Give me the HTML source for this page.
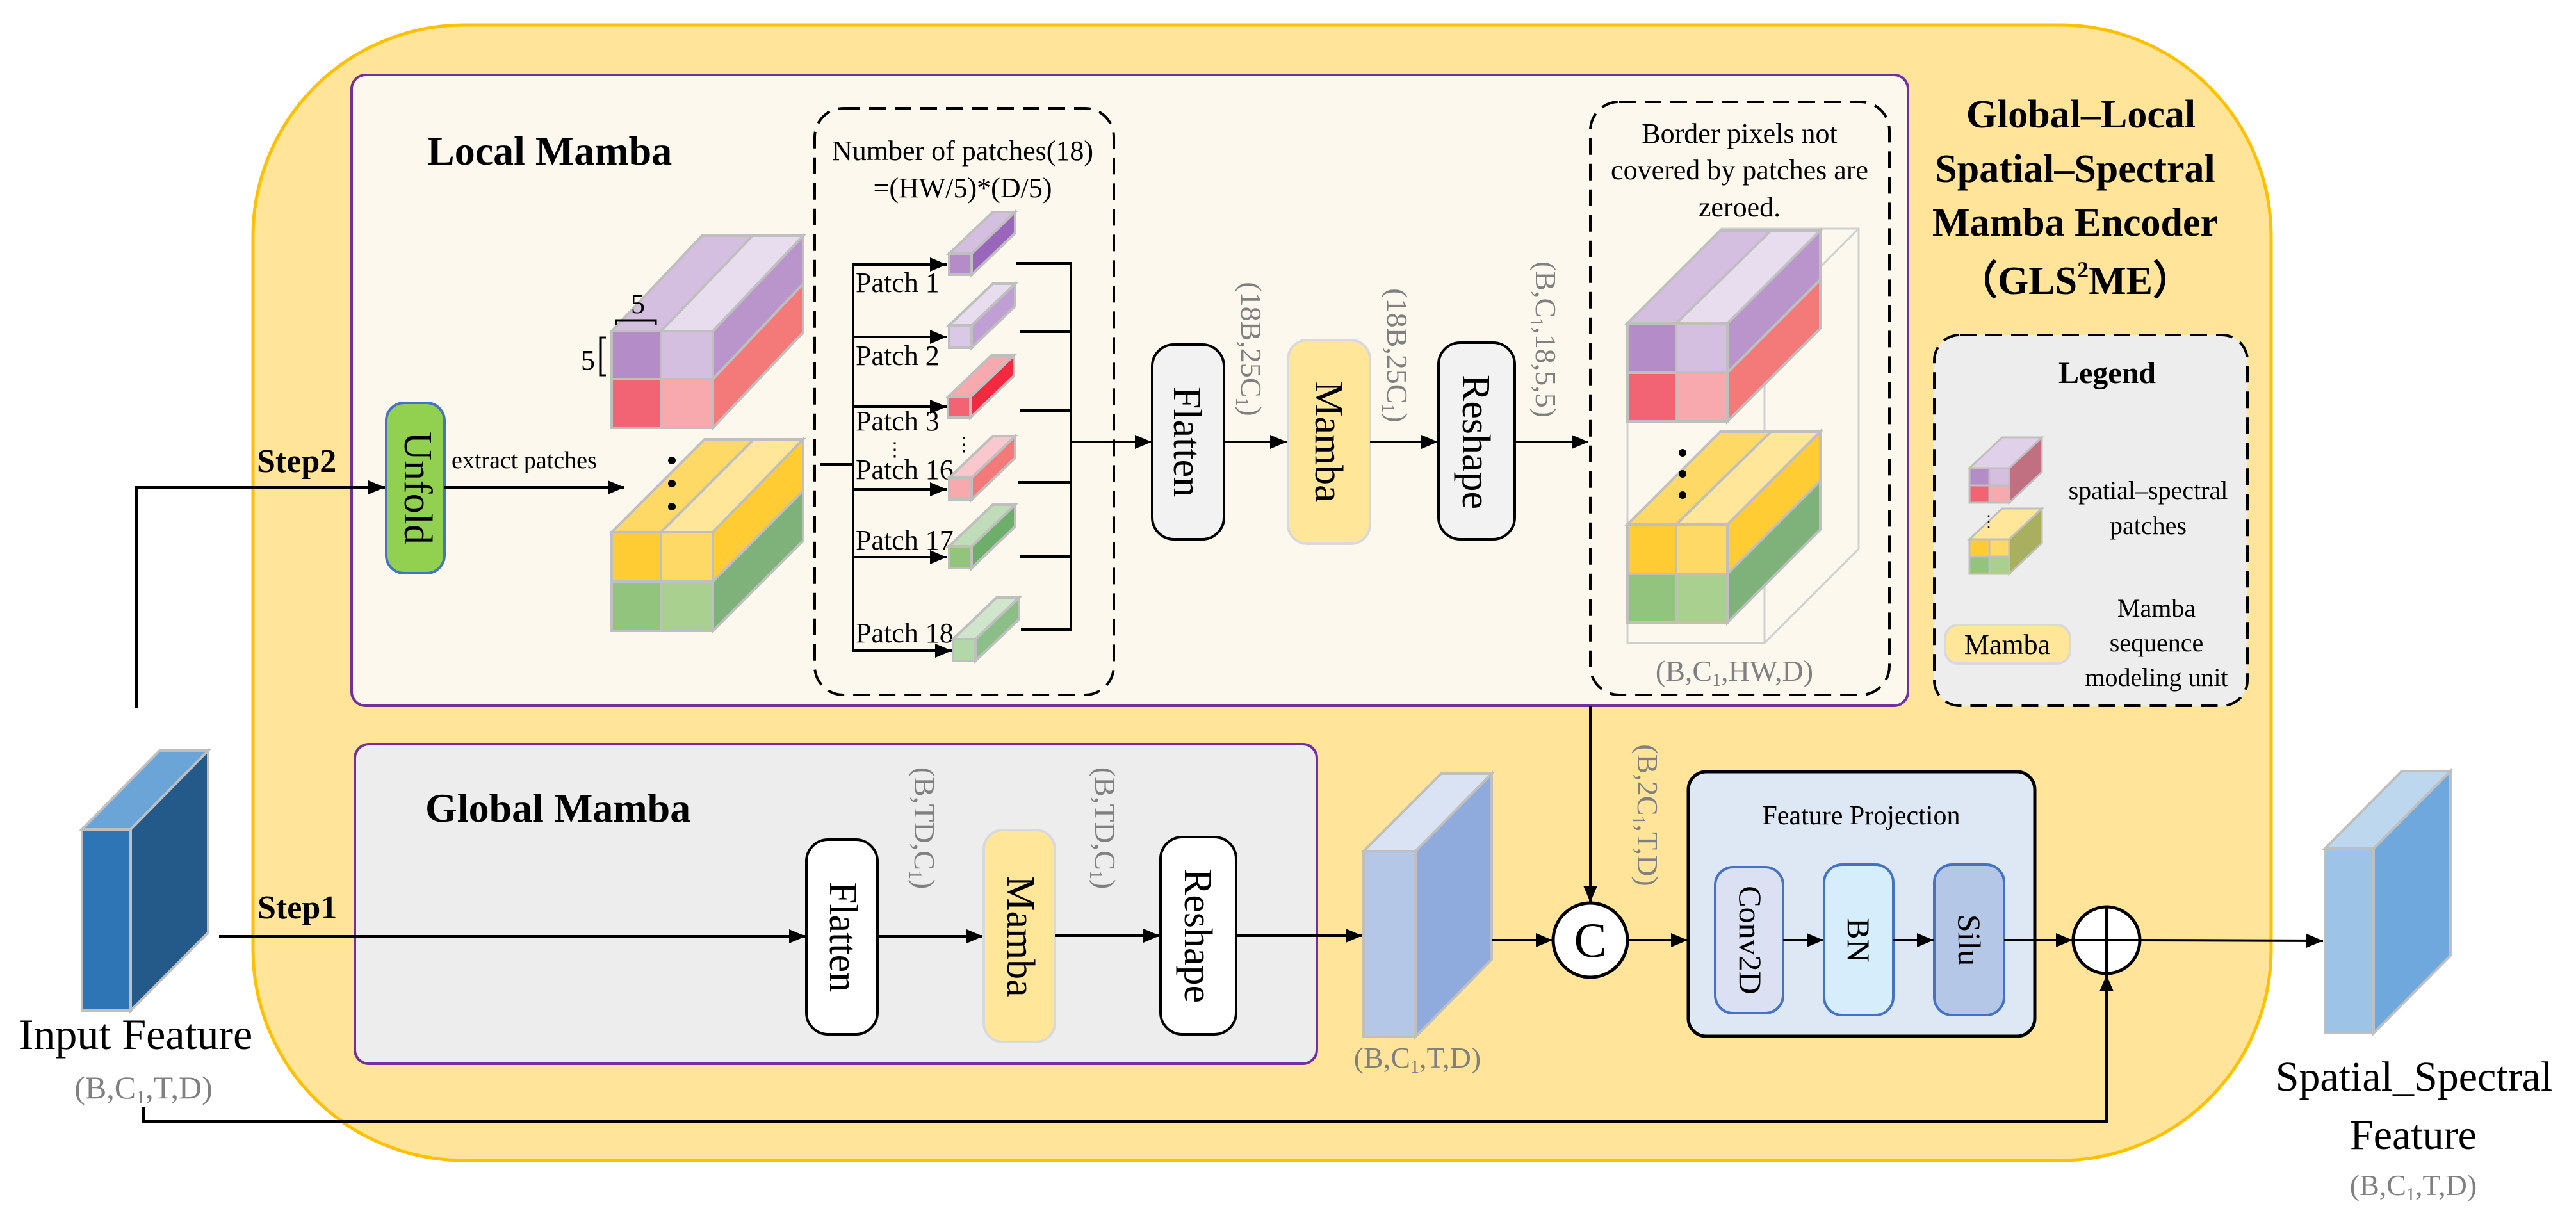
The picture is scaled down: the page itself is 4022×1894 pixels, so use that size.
<!DOCTYPE html>
<html><head><meta charset="utf-8"><style>
html,body{margin:0;padding:0;background:#fff;}
svg{display:block;}
svg text{font-family:"Liberation Serif","Times New Roman",serif !important;}
.g{fill:#808080;}
.b{font-weight:bold;}
</style></head><body>
<svg width="4022" height="1894" viewBox="0 0 4022 1894" xmlns="http://www.w3.org/2000/svg" font-family="Liberation Serif, serif">
<defs>
<marker id="ah" viewBox="0 0 10 10" refX="10" refY="5" markerWidth="26" markerHeight="22" markerUnits="userSpaceOnUse" orient="auto" preserveAspectRatio="none"><path d="M0,0 L10,5 L0,10 z" fill="#000"/></marker>
</defs>

<rect x="395" y="39" width="3151" height="1773" rx="330" fill="#FFE49A" stroke="#FFC000" stroke-width="5"/>

<rect x="549" y="117" width="2430" height="985" rx="22" fill="#FDF8EE" stroke="#7030A0" stroke-width="4"/>
<rect x="554" y="1162" width="1502" height="499" rx="22" fill="#EDEDED" stroke="#7030A0" stroke-width="4"/>

<text x="667" y="257" font-size="64" class="b">Local Mamba</text>
<text x="664" y="1283" font-size="64" class="b">Global Mamba</text>

<g font-size="62" class="b" text-anchor="middle">
<text x="3249" y="199">Global–Local</text>
<text x="3240" y="284">Spatial–Spectral</text>
<text x="3240" y="368">Mamba Encoder</text>
<text x="3240" y="459">（GLS<tspan font-size="36" dy="-26">2</tspan><tspan dy="26">ME）</tspan></text>
</g>

<polygon points="128,1295 249,1172 325,1172 204,1295" fill="#6BA5D8" stroke="#BFBFBF" stroke-width="4"/>
<polygon points="204,1295 325,1172 325,1456 204,1578" fill="#245A8A" stroke="#BFBFBF" stroke-width="4"/>
<rect x="128" y="1295" width="76" height="283" fill="#2E75B6" stroke="#BFBFBF" stroke-width="4"/>
<text x="212" y="1638" font-size="68" text-anchor="middle">Input Feature</text>
<text x="224" y="1715" font-size="50" text-anchor="middle" class="g">(B,C<tspan font-size="30" dy="8">1</tspan><tspan dy="-8">,T,D)</tspan></text>

<polyline points="224,1728 224,1751 3289,1751 3289,1522" fill="none" stroke="#000" stroke-width="4" marker-end="url(#ah)"/>

<text x="402" y="1434" font-size="52" class="b">Step1</text>
<line x1="342" y1="1462" x2="1258" y2="1462" stroke="#000" stroke-width="4" marker-end="url(#ah)"/>
<text x="401" y="737" font-size="52" class="b">Step2</text>
<polyline points="213,1105 213,761 601,761" fill="none" stroke="#000" stroke-width="4" marker-end="url(#ah)"/>

<rect x="603" y="629" width="91" height="266" rx="28" fill="#92D050" stroke="#4472C4" stroke-width="4"/>
<text transform="translate(632,762) rotate(90)" font-size="62" text-anchor="middle">Unfold</text>
<text x="705" y="731" font-size="38">extract patches</text>
<line x1="694" y1="761" x2="975" y2="761" stroke="#000" stroke-width="4" marker-end="url(#ah)"/>

<g stroke="#BFBFBF" stroke-width="4">
<polygon points="955,517 1096,368 1175,368 1032,517" fill="#D5BFE0"/>
<polygon points="1032,517 1175,368 1254,368 1113,517" fill="#E8DCEF"/>
<polygon points="1113,517 1254,368 1254,443 1113,592" fill="#B995CB"/>
<polygon points="1113,592 1254,443 1254,519 1113,668" fill="#F47A7A"/>
<rect x="955" y="517" width="77" height="75" fill="#B38CC8"/>
<rect x="1032" y="517" width="81" height="75" fill="#D5BFE0"/>
<rect x="955" y="592" width="77" height="76" fill="#F26374"/>
<rect x="1032" y="592" width="81" height="76" fill="#F8A9AE"/>
<polygon points="955,831 1100,686 1177,686 1032,831" fill="#FFD966"/>
<polygon points="1032,831 1177,686 1254,686 1113,831" fill="#FFE699"/>
<polygon points="1113,831 1254,686 1254,766 1113,908" fill="#FFCC33"/>
<polygon points="1113,908 1254,766 1254,844 1113,985" fill="#7FB27A"/>
<rect x="955" y="831" width="77" height="77" fill="#FFCC33"/>
<rect x="1032" y="831" width="81" height="77" fill="#FFD966"/>
<rect x="955" y="908" width="77" height="77" fill="#93C47D"/>
<rect x="1032" y="908" width="81" height="77" fill="#A9D08E"/>
</g>
<g fill="#000"><circle cx="1049" cy="719" r="6"/><circle cx="1049" cy="755" r="6"/><circle cx="1049" cy="791" r="6"/></g>
<text x="985" y="489" font-size="44">5</text>
<text x="907" y="577" font-size="44">5</text>
<path d="M962,508 V500 H1024 V508" fill="none" stroke="#000" stroke-width="3"/>
<path d="M946,586 H938 V527 H946" fill="none" stroke="#000" stroke-width="3"/>

<rect x="1272" y="169" width="467" height="916" rx="45" fill="none" stroke="#000" stroke-width="4" stroke-dasharray="26,14"/>
<text x="1503" y="250" font-size="44" text-anchor="middle">Number of patches(18)</text>
<text x="1503" y="308" font-size="44" text-anchor="middle">=(HW/5)*(D/5)</text>

<line x1="1280" y1="725" x2="1332" y2="725" stroke="#000" stroke-width="4"/>
<line x1="1332" y1="411" x2="1332" y2="1018" stroke="#000" stroke-width="4"/>
<g stroke="#000" stroke-width="4" marker-end="url(#ah)">
<line x1="1332" y1="413" x2="1478" y2="413"/>
<line x1="1332" y1="526" x2="1478" y2="526"/>
<line x1="1332" y1="635" x2="1478" y2="635"/>
<line x1="1332" y1="764" x2="1478" y2="764"/>
<line x1="1332" y1="870" x2="1478" y2="870"/>
<line x1="1332" y1="1016" x2="1486" y2="1016"/>
</g>
<g font-size="44">
<text x="1336" y="456">Patch 1</text>
<text x="1336" y="570">Patch 2</text>
<text x="1336" y="672">Patch 3</text>
<text x="1336" y="748">Patch 16</text>
<text x="1336" y="858">Patch 17</text>
<text x="1336" y="1003">Patch 18</text>
</g>
<text x="1397" y="712" font-size="30" text-anchor="middle">⋮</text>
<text x="1505" y="704" font-size="30" text-anchor="middle">⋮</text>

<g stroke="#BFBFBF" stroke-width="4">
<polygon points="1482,396 1550,331 1585,331 1517,396" fill="#D5BFE0"/>
<polygon points="1517,396 1585,331 1585,364 1517,429" fill="#9966BB"/>
<rect x="1482" y="396" width="35" height="33" fill="#B38CC8"/>
<polygon points="1482,508 1550,443 1585,443 1517,508" fill="#E8DCEF"/>
<polygon points="1517,508 1585,443 1585,478 1517,543" fill="#C0A0D4"/>
<rect x="1482" y="508" width="35" height="35" fill="#D9C8E6"/>
<polygon points="1480,620 1548,555 1583,555 1515,620" fill="#F8A9AE"/>
<polygon points="1515,620 1583,555 1583,587 1515,652" fill="#F4283F"/>
<rect x="1480" y="620" width="35" height="32" fill="#F26374"/>
<polygon points="1482,746 1550,681 1585,681 1517,746" fill="#FAC8CC"/>
<polygon points="1517,746 1585,681 1585,715 1517,780" fill="#F47A7A"/>
<rect x="1482" y="746" width="35" height="34" fill="#F8A9AE"/>
<polygon points="1482,853 1550,788 1585,788 1517,853" fill="#BFDDB8"/>
<polygon points="1517,853 1585,788 1585,822 1517,887" fill="#6DAE6A"/>
<rect x="1482" y="853" width="35" height="34" fill="#93C47D"/>
<polygon points="1488,998 1556,933 1591,933 1523,998" fill="#CFE6CC"/>
<polygon points="1523,998 1591,933 1591,967 1523,1032" fill="#8CBF87"/>
<rect x="1488" y="998" width="35" height="34" fill="#B2D7A8"/>
</g>

<g stroke="#000" stroke-width="4" fill="none">
<line x1="1587" y1="411" x2="1672" y2="411"/>
<line x1="1592" y1="518" x2="1672" y2="518"/>
<line x1="1592" y1="641" x2="1672" y2="641"/>
<line x1="1590" y1="753" x2="1672" y2="753"/>
<line x1="1592" y1="869" x2="1672" y2="869"/>
<line x1="1594" y1="983" x2="1672" y2="983"/>
<line x1="1672" y1="409" x2="1672" y2="985"/>
</g>
<line x1="1672" y1="690" x2="1798" y2="690" stroke="#000" stroke-width="4" marker-end="url(#ah)"/>

<rect x="1799" y="538" width="112" height="304" rx="34" fill="#F2F2F2" stroke="#000" stroke-width="4"/>
<text transform="translate(1833,690) rotate(90)" font-size="62" text-anchor="middle">Flatten</text>
<line x1="1911" y1="690" x2="2009" y2="690" stroke="#000" stroke-width="4" marker-end="url(#ah)"/>
<rect x="2011" y="531" width="128" height="318" rx="30" fill="#FFE699" stroke="#D9D9D9" stroke-width="4"/>
<text transform="translate(2054,690) rotate(90)" font-size="62" text-anchor="middle">Mamba</text>
<line x1="2139" y1="690" x2="2245" y2="690" stroke="#000" stroke-width="4" marker-end="url(#ah)"/>
<rect x="2246" y="535" width="119" height="307" rx="34" fill="#F2F2F2" stroke="#000" stroke-width="4"/>
<text transform="translate(2284,690) rotate(90)" font-size="62" text-anchor="middle">Reshape</text>
<line x1="2365" y1="690" x2="2480" y2="690" stroke="#000" stroke-width="4" marker-end="url(#ah)"/>

<g font-size="46" class="g">
<text transform="translate(1938,545) rotate(90)" text-anchor="middle">(18B,25C<tspan font-size="28" dy="8">1</tspan><tspan dy="-8">)</tspan></text>
<text transform="translate(2166,555) rotate(90)" text-anchor="middle">(18B,25C<tspan font-size="28" dy="8">1</tspan><tspan dy="-8">)</tspan></text>
<text transform="translate(2398,530) rotate(90)" text-anchor="middle">(B,C<tspan font-size="28" dy="8">1</tspan><tspan dy="-8">,18,5,5)</tspan></text>
</g>

<rect x="2483" y="159" width="467" height="926" rx="45" fill="none" stroke="#000" stroke-width="4" stroke-dasharray="26,14"/>
<g font-size="44" text-anchor="middle">
<text x="2716" y="223">Border pixels not</text>
<text x="2716" y="280">covered by patches are</text>
<text x="2716" y="338">zeroed.</text>
</g>
<g stroke="#D0D0D0" stroke-width="3" fill="none">
<rect x="2541" y="504" width="214" height="500"/>
<polyline points="2541,504 2688,357 2902,357 2902,857 2755,1004"/>
<line x1="2755" y1="504" x2="2902" y2="357"/>
</g>
<g stroke="#BFBFBF" stroke-width="4">
<polygon points="2541,505 2686,360 2765,360 2617,505" fill="#D5BFE0"/>
<polygon points="2617,505 2765,360 2842,360 2697,505" fill="#E8DCEF"/>
<polygon points="2697,505 2842,360 2842,437 2697,582" fill="#B995CB"/>
<polygon points="2697,582 2842,437 2842,513 2697,658" fill="#F47A7A"/>
<rect x="2541" y="505" width="76" height="77" fill="#B38CC8"/>
<rect x="2617" y="505" width="80" height="77" fill="#D5BFE0"/>
<rect x="2541" y="582" width="76" height="76" fill="#F26374"/>
<rect x="2617" y="582" width="80" height="76" fill="#F8A9AE"/>
<polygon points="2541,819 2686,674 2765,674 2617,819" fill="#FFD966"/>
<polygon points="2617,819 2765,674 2842,674 2697,819" fill="#FFE699"/>
<polygon points="2697,819 2842,674 2842,751 2697,896" fill="#FFCC33"/>
<polygon points="2697,896 2842,751 2842,827 2697,972" fill="#7FB27A"/>
<rect x="2541" y="819" width="76" height="77" fill="#FFCC33"/>
<rect x="2617" y="819" width="80" height="77" fill="#FFD966"/>
<rect x="2541" y="896" width="76" height="76" fill="#93C47D"/>
<rect x="2617" y="896" width="80" height="76" fill="#A9D08E"/>
</g>
<g fill="#000"><circle cx="2627" cy="707" r="6"/><circle cx="2627" cy="740" r="6"/><circle cx="2627" cy="773" r="6"/></g>
<text x="2708" y="1063" font-size="46" class="g" text-anchor="middle">(B,C<tspan font-size="28" dy="8">1</tspan><tspan dy="-8">,HW,D)</tspan></text>

<rect x="3020" y="523" width="489" height="579" rx="40" fill="#EDEDED" stroke="#000" stroke-width="4" stroke-dasharray="26,14"/>
<text x="3290" y="598" font-size="48" class="b" text-anchor="middle">Legend</text>
<g stroke="#BFBFBF" stroke-width="3">
<polygon points="3075,731 3126,683 3188,683 3137,731" fill="#E0D0EA"/>
<polygon points="3137,731 3188,683 3188,737 3137,785" fill="#C07080"/>
<rect x="3075" y="731" width="31" height="27" fill="#B38CC8"/>
<rect x="3106" y="731" width="31" height="27" fill="#D5BFE0"/>
<rect x="3075" y="758" width="31" height="27" fill="#F26374"/>
<rect x="3106" y="758" width="31" height="27" fill="#F8A9AE"/>
<polygon points="3075,842 3126,794 3188,794 3137,842" fill="#FFE699"/>
<polygon points="3137,842 3188,794 3188,848 3137,896" fill="#A8B060"/>
<rect x="3075" y="842" width="31" height="27" fill="#FFCC33"/>
<rect x="3106" y="842" width="31" height="27" fill="#FFD966"/>
<rect x="3075" y="869" width="31" height="27" fill="#93C47D"/>
<rect x="3106" y="869" width="31" height="27" fill="#A9D08E"/>
</g>
<text x="3105" y="822" font-size="24" text-anchor="middle">⋮</text>
<g font-size="40" text-anchor="middle">
<text x="3354" y="779">spatial–spectral</text>
<text x="3354" y="834">patches</text>
<text x="3367" y="963">Mamba</text>
<text x="3367" y="1017">sequence</text>
<text x="3367" y="1071">modeling unit</text>
</g>
<rect x="3037" y="976" width="195" height="60" rx="20" fill="#FFE699" stroke="#D9D9D9" stroke-width="4"/>
<text x="3134" y="1021" font-size="44" text-anchor="middle">Mamba</text>

<rect x="1259" y="1311" width="111" height="304" rx="34" fill="#fff" stroke="#000" stroke-width="4"/>
<text transform="translate(1296,1463) rotate(90)" font-size="62" text-anchor="middle">Flatten</text>
<line x1="1370" y1="1462" x2="1535" y2="1462" stroke="#000" stroke-width="4" marker-end="url(#ah)"/>
<rect x="1536" y="1296" width="111" height="331" rx="30" fill="#FFE699" stroke="#D9D9D9" stroke-width="4"/>
<text transform="translate(1573,1462) rotate(90)" font-size="62" text-anchor="middle">Mamba</text>
<line x1="1647" y1="1461" x2="1811" y2="1461" stroke="#000" stroke-width="4" marker-end="url(#ah)"/>
<rect x="1812" y="1307" width="118" height="308" rx="34" fill="#fff" stroke="#000" stroke-width="4"/>
<text transform="translate(1850,1461) rotate(90)" font-size="62" text-anchor="middle">Reshape</text>
<line x1="1930" y1="1461" x2="2127" y2="1461" stroke="#000" stroke-width="4" marker-end="url(#ah)"/>
<g font-size="46" class="g">
<text transform="translate(1428,1293) rotate(90)" text-anchor="middle">(B,TD,C<tspan font-size="28" dy="8">1</tspan><tspan dy="-8">)</tspan></text>
<text transform="translate(1710,1293) rotate(90)" text-anchor="middle">(B,TD,C<tspan font-size="28" dy="8">1</tspan><tspan dy="-8">)</tspan></text>
</g>

<polygon points="2129,1329 2250,1208 2329,1208 2210,1329" fill="#DAE3F3" stroke="#BFBFBF" stroke-width="4"/>
<polygon points="2210,1329 2329,1208 2329,1498 2210,1619" fill="#8FAADC" stroke="#BFBFBF" stroke-width="4"/>
<rect x="2129" y="1329" width="81" height="290" fill="#B4C7E7" stroke="#BFBFBF" stroke-width="4"/>
<text x="2213" y="1667" font-size="46" class="g" text-anchor="middle">(B,C<tspan font-size="28" dy="8">1</tspan><tspan dy="-8">,T,D)</tspan></text>
<line x1="2329" y1="1468" x2="2424" y2="1468" stroke="#000" stroke-width="4" marker-end="url(#ah)"/>

<line x1="2483" y1="1102" x2="2483" y2="1409" stroke="#000" stroke-width="4" marker-end="url(#ah)"/>
<circle cx="2483" cy="1468" r="58" fill="#fff" stroke="#000" stroke-width="5"/>
<text x="2483" y="1494" font-size="76" text-anchor="middle">C</text>
<text transform="translate(2557,1273) rotate(90)" font-size="46" class="g" text-anchor="middle">(B,2C<tspan font-size="28" dy="8">1</tspan><tspan dy="-8">,T,D)</tspan></text>
<line x1="2541" y1="1468" x2="2635" y2="1468" stroke="#000" stroke-width="4" marker-end="url(#ah)"/>

<rect x="2636" y="1205" width="541" height="413" rx="28" fill="#DEE8F5" stroke="#000" stroke-width="5"/>
<text x="2906" y="1287" font-size="42" text-anchor="middle">Feature Projection</text>
<rect x="2678" y="1354" width="106" height="228" rx="28" fill="#DCE0F3" stroke="#4472C4" stroke-width="4"/>
<text transform="translate(2716,1468) rotate(90)" font-size="50" text-anchor="middle">Conv2D</text>
<rect x="2848" y="1350" width="108" height="235" rx="28" fill="#D6EEFB" stroke="#4472C4" stroke-width="4"/>
<text transform="translate(2885,1468) rotate(90)" font-size="50" text-anchor="middle">BN</text>
<rect x="3020" y="1350" width="109" height="235" rx="28" fill="#B4C7E7" stroke="#4472C4" stroke-width="4"/>
<text transform="translate(3058,1468) rotate(90)" font-size="50" text-anchor="middle">Silu</text>
<line x1="2784" y1="1468" x2="2847" y2="1468" stroke="#000" stroke-width="4" marker-end="url(#ah)"/>
<line x1="2956" y1="1468" x2="3019" y2="1468" stroke="#000" stroke-width="4" marker-end="url(#ah)"/>
<line x1="3129" y1="1468" x2="3236" y2="1468" stroke="#000" stroke-width="4" marker-end="url(#ah)"/>

<circle cx="3289" cy="1468" r="52" fill="#fff" stroke="#000" stroke-width="5"/>
<line x1="3237" y1="1468" x2="3341" y2="1468" stroke="#000" stroke-width="4"/>
<line x1="3289" y1="1416" x2="3289" y2="1520" stroke="#000" stroke-width="4"/>
<line x1="3341" y1="1468" x2="3627" y2="1469" stroke="#000" stroke-width="4" marker-end="url(#ah)"/>

<polygon points="3630,1325 3750,1204 3826,1204 3706,1325" fill="#BDD7EE" stroke="#BFBFBF" stroke-width="4"/>
<polygon points="3706,1325 3826,1204 3826,1492 3706,1613" fill="#6FA8DC" stroke="#BFBFBF" stroke-width="4"/>
<rect x="3630" y="1325" width="76" height="288" fill="#9DC3E6" stroke="#BFBFBF" stroke-width="4"/>
<text x="3769" y="1703" font-size="66" text-anchor="middle">Spatial_Spectral</text>
<text x="3768" y="1794" font-size="66" text-anchor="middle">Feature</text>
<text x="3768" y="1866" font-size="46" class="g" text-anchor="middle">(B,C<tspan font-size="28" dy="8">1</tspan><tspan dy="-8">,T,D)</tspan></text>
</svg>
</body></html>
